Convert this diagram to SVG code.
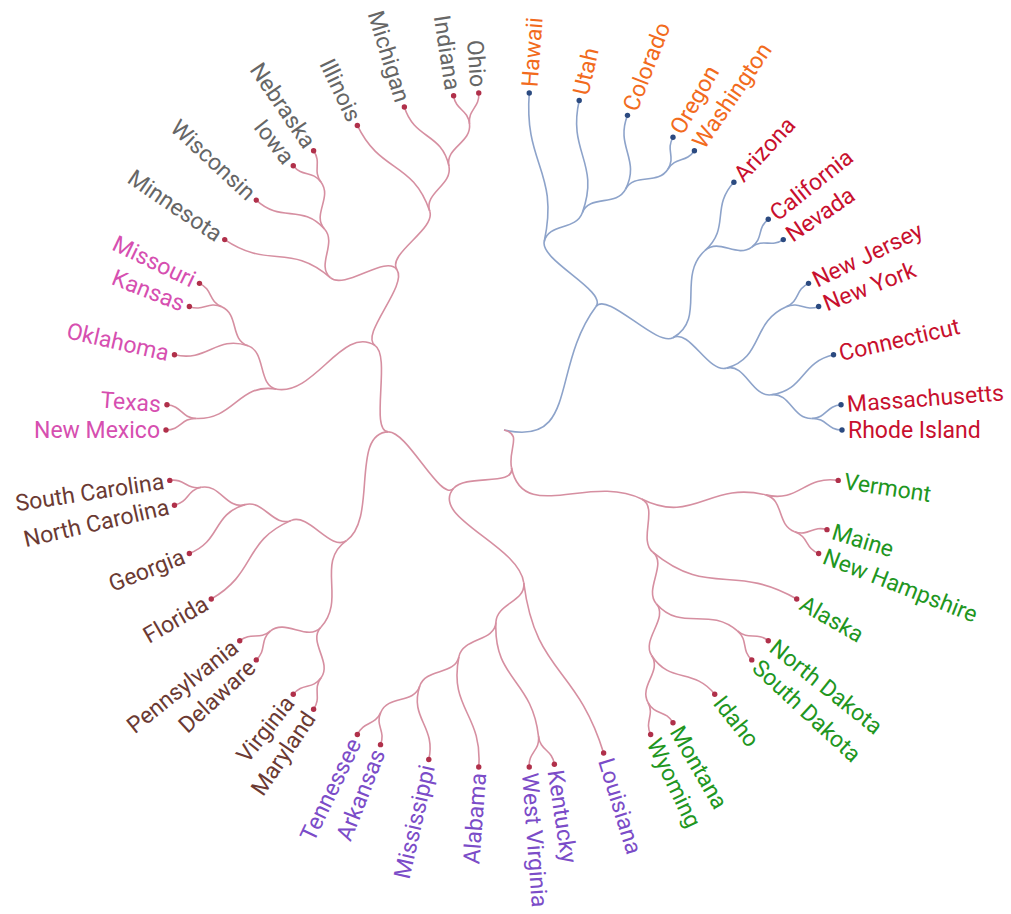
<svg xmlns="http://www.w3.org/2000/svg" width="1011" height="914" viewBox="0 0 1011 914">
<style>
.lb{fill:none;stroke:#8da3ca;stroke-width:1.6}
.lp{fill:none;stroke:#d68fa1;stroke-width:1.6}
.db{fill:#2b4a80}
.dp{fill:#b0304a}
text{font-family:Roboto,"Liberation Sans",sans-serif;font-size:23px}
.r{text-anchor:start}
.l{text-anchor:end}
.or{fill:#f26b1d}
.rd{fill:#c8102e}
.gn{fill:#21961e}
.pu{fill:#7b4cc8}
.br{fill:#6b3a33}
.mg{fill:#d64fb0}
.gy{fill:#666666}
</style>
<rect width="1011" height="914" fill="#ffffff"/>
<g id="connectors">
<g class="lb">
<path d="M504,430C579.11,446.96 550.02,368.26 596.03,306.52"/>
<path d="M596.03,306.52C607.53,291.09 540.18,260.57 544.20,241.74"/>
<path d="M596.03,306.52C607.53,291.09 656.04,346.92 672.93,337.69"/>
<path d="M544.20,241.74C559.39,170.60 523.82,165.49 529.26,92.95"/>
<path d="M544.20,241.74C548.22,222.92 575.80,230.79 582.33,212.68"/>
<path d="M582.33,212.68C600.47,162.35 567.31,152.63 579.21,100.47"/>
<path d="M582.33,212.68C588.85,194.57 616.78,206.60 625.46,189.42"/>
<path d="M625.46,189.42C640.89,158.84 614.97,147.25 627.49,115.37"/>
<path d="M625.46,189.42C634.13,172.23 657.62,185.51 667.87,169.21"/>
<path d="M667.87,169.21C675.85,156.51 665.5,150.27 673,137.28"/>
<path d="M667.87,169.21C675.85,156.51 685.95,163.12 694.40,150.73"/>
<path d="M672.93,337.69C706.72,319.23 676.29,276.12 705.00,250.48"/>
<path d="M672.93,337.69C689.82,328.46 708.01,373.28 726.56,368.12"/>
<path d="M705.00,250.48C730.55,227.66 710.60,207.34 733.90,182.23"/>
<path d="M705.00,250.48C719.36,237.65 736.27,258.46 751.76,247.02"/>
<path d="M751.76,247.02C763.82,238.11 756.53,228.61 768.26,219.26"/>
<path d="M751.76,247.02C763.82,238.11 770.88,248.05 783.27,239.60"/>
<path d="M726.56,368.12C763.65,357.81 751.00,322.21 786.29,306.81"/>
<path d="M726.56,368.12C745.11,362.97 752.11,397.33 771.19,394.82"/>
<path d="M786.29,306.81C800.04,300.81 795.01,289.86 808.53,283.35"/>
<path d="M786.29,306.81C800.04,300.81 804.67,312.00 818.63,306.51"/>
<path d="M771.19,394.82C805.15,390.35 800.13,362.41 833.53,354.79"/>
<path d="M771.19,394.82C790.28,392.31 792.55,419.20 811.78,418.48"/>
<path d="M811.78,418.48C826.77,417.92 826.10,405.86 841.05,404.74"/>
<path d="M811.78,418.48C826.77,417.92 827,430 842,430"/>
</g>
<g class="lp">
<path d="M504,430C522.78,434.24 507.76,448.88 511.51,467.76"/>
<path d="M511.51,467.76C522.78,524.40 590.03,473.17 641.64,499.08"/>
<path d="M511.51,467.76C515.27,486.64 466.23,473.68 453.64,488.25"/>
<path d="M641.64,499.08C693.26,524.98 709.53,480.97 765.58,494.87"/>
<path d="M641.64,499.08C658.85,507.71 637.92,539.91 652.80,552.12"/>
<path d="M765.58,494.87C798.83,503.12 804.36,475.27 838.22,480.38"/>
<path d="M765.58,494.87C784.27,499.51 776.55,525.38 794.71,531.74"/>
<path d="M794.71,531.74C808.87,536.70 812.65,525.21 826.98,529.63"/>
<path d="M794.71,531.74C808.87,536.70 804.67,548.00 818.63,553.49"/>
<path d="M652.80,552.12C709.04,598.27 733.71,562.63 796.72,599"/>
<path d="M652.80,552.12C667.69,564.33 643.62,589.20 656.31,603.68"/>
<path d="M656.31,603.68C681.70,632.62 708.24,605.83 737.42,630.95"/>
<path d="M656.31,603.68C669.00,618.15 641.07,639.37 651.62,655.47"/>
<path d="M737.42,630.95C748.79,640.73 756.53,631.39 768.26,640.74"/>
<path d="M737.42,630.95C748.79,640.73 740.78,649.69 751.77,659.90"/>
<path d="M651.62,655.47C670.38,684.13 693.39,667.48 714.74,694.26"/>
<path d="M651.62,655.47C662.16,671.58 638.93,685.29 647.93,702.31"/>
<path d="M647.93,702.31C654.93,715.57 665.5,709.73 673,722.72"/>
<path d="M647.93,702.31C654.93,715.57 644.14,721.01 650.65,734.53"/>
<path d="M453.64,488.25C428.46,517.37 518.81,544.55 523.74,582.73"/>
<path d="M453.64,488.25C441.05,502.81 407.76,431.57 388.52,431.89"/>
<path d="M523.74,582.73C535.54,673.97 576.51,665.07 603.63,752.98"/>
<path d="M523.74,582.73C526.21,601.82 496.71,603.10 495.90,622.33"/>
<path d="M495.90,622.33C493.47,680.03 532.02,678.68 538.48,736.06"/>
<path d="M495.90,622.33C495.09,641.56 462.69,637.68 458.93,656.56"/>
<path d="M538.48,736.06C540.16,750.97 552.14,749.39 554.38,764.22"/>
<path d="M538.48,736.06C540.16,750.97 528.14,752.10 529.26,767.05"/>
<path d="M458.93,656.56C448.50,709.03 482.74,713.70 478.74,767.05"/>
<path d="M458.93,656.56C455.18,675.44 425.78,667.71 419.76,686.00"/>
<path d="M419.76,686.00C409.06,718.53 436.41,726.13 428.79,759.53"/>
<path d="M419.76,686.00C413.75,704.28 388.52,694.65 380.82,712.29"/>
<path d="M380.82,712.29C374.82,726.04 386.00,730.67 380.51,744.63"/>
<path d="M380.82,712.29C374.82,726.04 363.86,721.01 357.35,734.53"/>
<path d="M388.52,431.89C350.02,432.52 377.97,518.50 346.47,540.63"/>
<path d="M388.52,431.89C369.27,432.20 391.26,356.20 375.15,345.66"/>
<path d="M346.47,540.63C314.96,562.76 346.88,599.33 320.69,627.56"/>
<path d="M346.47,540.63C330.71,551.69 309.12,512.85 291.41,520.38"/>
<path d="M320.69,627.56C307.60,641.67 332.52,662.32 321.09,677.81"/>
<path d="M320.69,627.56C307.60,641.67 285.17,618.39 270.58,630.95"/>
<path d="M321.09,677.81C312.18,689.88 322.05,696.88 313.60,709.27"/>
<path d="M321.09,677.81C312.18,689.88 302.61,682.53 293.26,694.26"/>
<path d="M270.58,630.95C259.21,640.73 267.22,649.69 256.23,659.90"/>
<path d="M270.58,630.95C259.21,640.73 251.47,631.39 239.74,640.74"/>
<path d="M291.41,520.38C242.17,541.31 257.61,572.25 211.28,599"/>
<path d="M291.41,520.38C273.69,527.91 263.52,499.28 245.03,504.61"/>
<path d="M245.03,504.61C212.11,514.09 221.25,540.97 189.37,553.49"/>
<path d="M245.03,504.61C226.53,509.93 220.29,483.68 201.37,487.26"/>
<path d="M201.37,487.26C186.63,490.05 189.10,501.87 174.47,505.21"/>
<path d="M201.37,487.26C186.63,490.05 184.61,478.14 169.78,480.38"/>
<path d="M375.15,345.66C342.94,324.57 314.53,395.98 276.64,389.17"/>
<path d="M375.15,345.66C359.05,335.12 407.75,285.95 397.05,269.94"/>
<path d="M276.64,389.17C238.74,382.37 234.69,419.92 196.22,418.48"/>
<path d="M276.64,389.17C257.69,385.77 266.29,351.78 248.00,345.76"/>
<path d="M196.22,418.48C181.23,417.92 181,430 166,430"/>
<path d="M196.22,418.48C181.23,417.92 181.90,405.86 166.95,404.74"/>
<path d="M248.00,345.76C215.47,335.06 207.87,362.41 174.47,354.79"/>
<path d="M248.00,345.76C229.72,339.75 239.35,314.52 221.71,306.82"/>
<path d="M221.71,306.82C207.96,300.82 203.33,312.00 189.37,306.51"/>
<path d="M221.71,306.82C207.96,300.82 212.99,289.86 199.47,283.35"/>
<path d="M397.05,269.94C386.36,253.94 344.80,290.38 330.32,277.69"/>
<path d="M397.05,269.94C386.36,253.94 435.94,229.49 429.75,211.26"/>
<path d="M330.32,277.69C290.10,242.42 268.93,269.74 224.73,239.60"/>
<path d="M330.32,277.69C315.85,265.00 337.30,243.36 324.48,229.00"/>
<path d="M324.48,229.00C301.66,203.45 281.34,223.40 256.23,200.10"/>
<path d="M324.48,229.00C311.65,214.64 332.52,197.68 321.09,182.19"/>
<path d="M321.09,182.19C312.18,170.12 302.61,177.47 293.26,165.74"/>
<path d="M321.09,182.19C312.18,170.12 322.05,163.12 313.60,150.73"/>
<path d="M429.75,211.26C412.55,160.60 380.56,173.67 357.35,125.47"/>
<path d="M429.75,211.26C423.56,193.03 452.89,185.03 448.95,166.18"/>
<path d="M448.95,166.18C441.96,132.65 414.47,139.75 404.37,107.02"/>
<path d="M448.95,166.18C445.02,147.34 471.67,143.07 469.52,123.94"/>
<path d="M469.52,123.94C467.84,109.03 455.86,110.61 453.62,95.78"/>
<path d="M469.52,123.94C467.84,109.03 479.86,107.90 478.74,92.95"/>
</g>
</g>
<g id="n-hawaii"><circle class="db" cx="529.26" cy="92.95" r="2.7"/><text class="r or" x="848" y="430" dy=".34em" transform="rotate(-85.714 504 430)">Hawaii</text></g>
<g id="n-utah"><circle class="db" cx="579.21" cy="100.47" r="2.7"/><text class="r or" x="848" y="430" dy=".34em" transform="rotate(-77.143 504 430)">Utah</text></g>
<g id="n-colorado"><circle class="db" cx="627.49" cy="115.37" r="2.7"/><text class="r or" x="848" y="430" dy=".34em" transform="rotate(-68.571 504 430)">Colorado</text></g>
<g id="n-oregon"><circle class="db" cx="673" cy="137.28" r="2.7"/><text class="r or" x="848" y="430" dy=".34em" transform="rotate(-60 504 430)">Oregon</text></g>
<g id="n-washington"><circle class="db" cx="694.40" cy="150.73" r="2.7"/><text class="r or" x="848" y="430" dy=".34em" transform="rotate(-55.714 504 430)">Washington</text></g>
<g id="n-arizona"><circle class="db" cx="733.90" cy="182.23" r="2.7"/><text class="r rd" x="848" y="430" dy=".34em" transform="rotate(-47.143 504 430)">Arizona</text></g>
<g id="n-california"><circle class="db" cx="768.26" cy="219.26" r="2.7"/><text class="r rd" x="848" y="430" dy=".34em" transform="rotate(-38.571 504 430)">California</text></g>
<g id="n-nevada"><circle class="db" cx="783.27" cy="239.60" r="2.7"/><text class="r rd" x="848" y="430" dy=".34em" transform="rotate(-34.286 504 430)">Nevada</text></g>
<g id="n-new-jersey"><circle class="db" cx="808.53" cy="283.35" r="2.7"/><text class="r rd" x="848" y="430" dy=".34em" transform="rotate(-25.714 504 430)">New Jersey</text></g>
<g id="n-new-york"><circle class="db" cx="818.63" cy="306.51" r="2.7"/><text class="r rd" x="848" y="430" dy=".34em" transform="rotate(-21.429 504 430)">New York</text></g>
<g id="n-connecticut"><circle class="db" cx="833.53" cy="354.79" r="2.7"/><text class="r rd" x="848" y="430" dy=".34em" transform="rotate(-12.857 504 430)">Connecticut</text></g>
<g id="n-massachusetts"><circle class="db" cx="841.05" cy="404.74" r="2.7"/><text class="r rd" x="848" y="430" dy=".34em" transform="rotate(-4.286 504 430)">Massachusetts</text></g>
<g id="n-rhode-island"><circle class="db" cx="842" cy="430" r="2.7"/><text class="r rd" x="848" y="430" dy=".34em">Rhode Island</text></g>
<g id="n-vermont"><circle class="dp" cx="838.22" cy="480.38" r="2.7"/><text class="r gn" x="848" y="430" dy=".34em" transform="rotate(8.571 504 430)">Vermont</text></g>
<g id="n-maine"><circle class="dp" cx="826.98" cy="529.63" r="2.7"/><text class="r gn" x="848" y="430" dy=".34em" transform="rotate(17.143 504 430)">Maine</text></g>
<g id="n-new-hampshire"><circle class="dp" cx="818.63" cy="553.49" r="2.7"/><text class="r gn" x="848" y="430" dy=".34em" transform="rotate(21.429 504 430)">New Hampshire</text></g>
<g id="n-alaska"><circle class="dp" cx="796.72" cy="599" r="2.7"/><text class="r gn" x="848" y="430" dy=".34em" transform="rotate(30 504 430)">Alaska</text></g>
<g id="n-north-dakota"><circle class="dp" cx="768.26" cy="640.74" r="2.7"/><text class="r gn" x="848" y="430" dy=".34em" transform="rotate(38.571 504 430)">North Dakota</text></g>
<g id="n-south-dakota"><circle class="dp" cx="751.77" cy="659.90" r="2.7"/><text class="r gn" x="848" y="430" dy=".34em" transform="rotate(42.857 504 430)">South Dakota</text></g>
<g id="n-idaho"><circle class="dp" cx="714.74" cy="694.26" r="2.7"/><text class="r gn" x="848" y="430" dy=".34em" transform="rotate(51.429 504 430)">Idaho</text></g>
<g id="n-montana"><circle class="dp" cx="673" cy="722.72" r="2.7"/><text class="r gn" x="848" y="430" dy=".34em" transform="rotate(60 504 430)">Montana</text></g>
<g id="n-wyoming"><circle class="dp" cx="650.65" cy="734.53" r="2.7"/><text class="r gn" x="848" y="430" dy=".34em" transform="rotate(64.286 504 430)">Wyoming</text></g>
<g id="n-louisiana"><circle class="dp" cx="603.63" cy="752.98" r="2.7"/><text class="r pu" x="848" y="430" dy=".34em" transform="rotate(72.857 504 430)">Louisiana</text></g>
<g id="n-kentucky"><circle class="dp" cx="554.38" cy="764.22" r="2.7"/><text class="r pu" x="848" y="430" dy=".34em" transform="rotate(81.429 504 430)">Kentucky</text></g>
<g id="n-west-virginia"><circle class="dp" cx="529.26" cy="767.05" r="2.7"/><text class="r pu" x="848" y="430" dy=".34em" transform="rotate(85.714 504 430)">West Virginia</text></g>
<g id="n-alabama"><circle class="dp" cx="478.74" cy="767.05" r="2.7"/><text class="l pu" x="160" y="430" dy=".34em" transform="rotate(-85.714 504 430)">Alabama</text></g>
<g id="n-mississippi"><circle class="dp" cx="428.79" cy="759.53" r="2.7"/><text class="l pu" x="160" y="430" dy=".34em" transform="rotate(-77.143 504 430)">Mississippi</text></g>
<g id="n-arkansas"><circle class="dp" cx="380.51" cy="744.63" r="2.7"/><text class="l pu" x="160" y="430" dy=".34em" transform="rotate(-68.571 504 430)">Arkansas</text></g>
<g id="n-tennessee"><circle class="dp" cx="357.35" cy="734.53" r="2.7"/><text class="l pu" x="160" y="430" dy=".34em" transform="rotate(-64.286 504 430)">Tennessee</text></g>
<g id="n-maryland"><circle class="dp" cx="313.60" cy="709.27" r="2.7"/><text class="l br" x="160" y="430" dy=".34em" transform="rotate(-55.714 504 430)">Maryland</text></g>
<g id="n-virginia"><circle class="dp" cx="293.26" cy="694.26" r="2.7"/><text class="l br" x="160" y="430" dy=".34em" transform="rotate(-51.429 504 430)">Virginia</text></g>
<g id="n-delaware"><circle class="dp" cx="256.23" cy="659.90" r="2.7"/><text class="l br" x="160" y="430" dy=".34em" transform="rotate(-42.857 504 430)">Delaware</text></g>
<g id="n-pennsylvania"><circle class="dp" cx="239.74" cy="640.74" r="2.7"/><text class="l br" x="160" y="430" dy=".34em" transform="rotate(-38.571 504 430)">Pennsylvania</text></g>
<g id="n-florida"><circle class="dp" cx="211.28" cy="599" r="2.7"/><text class="l br" x="160" y="430" dy=".34em" transform="rotate(-30 504 430)">Florida</text></g>
<g id="n-georgia"><circle class="dp" cx="189.37" cy="553.49" r="2.7"/><text class="l br" x="160" y="430" dy=".34em" transform="rotate(-21.429 504 430)">Georgia</text></g>
<g id="n-north-carolina"><circle class="dp" cx="174.47" cy="505.21" r="2.7"/><text class="l br" x="160" y="430" dy=".34em" transform="rotate(-12.857 504 430)">North Carolina</text></g>
<g id="n-south-carolina"><circle class="dp" cx="169.78" cy="480.38" r="2.7"/><text class="l br" x="160" y="430" dy=".34em" transform="rotate(-8.571 504 430)">South Carolina</text></g>
<g id="n-new-mexico"><circle class="dp" cx="166" cy="430" r="2.7"/><text class="l mg" x="160" y="430" dy=".34em">New Mexico</text></g>
<g id="n-texas"><circle class="dp" cx="166.95" cy="404.74" r="2.7"/><text class="l mg" x="160" y="430" dy=".34em" transform="rotate(4.286 504 430)">Texas</text></g>
<g id="n-oklahoma"><circle class="dp" cx="174.47" cy="354.79" r="2.7"/><text class="l mg" x="160" y="430" dy=".34em" transform="rotate(12.857 504 430)">Oklahoma</text></g>
<g id="n-kansas"><circle class="dp" cx="189.37" cy="306.51" r="2.7"/><text class="l mg" x="160" y="430" dy=".34em" transform="rotate(21.429 504 430)">Kansas</text></g>
<g id="n-missouri"><circle class="dp" cx="199.47" cy="283.35" r="2.7"/><text class="l mg" x="160" y="430" dy=".34em" transform="rotate(25.714 504 430)">Missouri</text></g>
<g id="n-minnesota"><circle class="dp" cx="224.73" cy="239.60" r="2.7"/><text class="l gy" x="160" y="430" dy=".34em" transform="rotate(34.286 504 430)">Minnesota</text></g>
<g id="n-wisconsin"><circle class="dp" cx="256.23" cy="200.10" r="2.7"/><text class="l gy" x="160" y="430" dy=".34em" transform="rotate(42.857 504 430)">Wisconsin</text></g>
<g id="n-iowa"><circle class="dp" cx="293.26" cy="165.74" r="2.7"/><text class="l gy" x="160" y="430" dy=".34em" transform="rotate(51.429 504 430)">Iowa</text></g>
<g id="n-nebraska"><circle class="dp" cx="313.60" cy="150.73" r="2.7"/><text class="l gy" x="160" y="430" dy=".34em" transform="rotate(55.714 504 430)">Nebraska</text></g>
<g id="n-illinois"><circle class="dp" cx="357.35" cy="125.47" r="2.7"/><text class="l gy" x="160" y="430" dy=".34em" transform="rotate(64.286 504 430)">Illinois</text></g>
<g id="n-michigan"><circle class="dp" cx="404.37" cy="107.02" r="2.7"/><text class="l gy" x="160" y="430" dy=".34em" transform="rotate(72.857 504 430)">Michigan</text></g>
<g id="n-indiana"><circle class="dp" cx="453.62" cy="95.78" r="2.7"/><text class="l gy" x="160" y="430" dy=".34em" transform="rotate(81.429 504 430)">Indiana</text></g>
<g id="n-ohio"><circle class="dp" cx="478.74" cy="92.95" r="2.7"/><text class="l gy" x="160" y="430" dy=".34em" transform="rotate(85.714 504 430)">Ohio</text></g>
</svg>
